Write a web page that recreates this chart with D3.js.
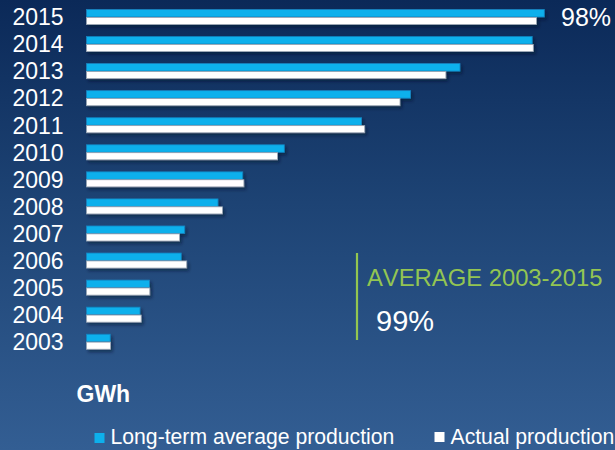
<!DOCTYPE html>
<html>
<head>
<meta charset="utf-8">
<script src="https://cdn.jsdelivr.net/npm/d3@7/dist/d3.min.js"></script>
<style>
  html, body { margin: 0; padding: 0; background: #1d4475; }
  svg { display: block; }
  text { font-family: "Liberation Sans", Arial, sans-serif; font-kerning: none; }
</style>
</head>
<body>
<div id="chart"></div>
<script>
// ---- data ----
const years = ["2015","2014","2013","2012","2011","2010","2009","2008","2007","2006","2005","2004","2003"];
const longTermAverage = [457.8, 445.7, 373.5, 324.1, 275.1, 197.8, 156.2, 131.5, 98.2, 94.7, 62.9, 53.5, 23.7];
const actualProduction = [450.0, 446.8, 359.4, 313.5, 278.2, 191.1, 157.4, 135.9, 93.1, 100.2, 63.3, 54.7, 24.1];
const seriesNames = ["Long-term average production", "Actual production"];
const unitLabel = "GWh";
const lastYearRatio = "98%";
const averageTitle = "AVERAGE 2003-2015";
const averageRatio = "99%";

const W = 615, H = 450;
const colors = { avg: "#0db0ec", avgEdge: "#1682bf", act: "#ffffff", actEdge: "#9aa6b4" };

const svg = d3.select("#chart").append("svg").attr("width", W).attr("height", H);
const defs = svg.append("defs");

const bg = defs.append("linearGradient").attr("id", "bg").attr("x1", 0).attr("y1", 0).attr("x2", 0).attr("y2", 1);
bg.append("stop").attr("offset", "0%").attr("stop-color", "#0b2958");
bg.append("stop").attr("offset", "45%").attr("stop-color", "#1d4374");
bg.append("stop").attr("offset", "100%").attr("stop-color", "#335e93");

const shadow = defs.append("filter").attr("id", "shadow").attr("x", "-10%").attr("y", "-80%").attr("width", "130%").attr("height", "300%");
shadow.append("feDropShadow").attr("dx", 2).attr("dy", 2.5).attr("stdDeviation", 1.6)
  .attr("flood-color", "#06142c").attr("flood-opacity", 0.5);

svg.append("rect").attr("width", W).attr("height", H).attr("fill", "url(#bg)");

// ---- scales ----
const x = d3.scaleLinear().domain([0, 460]).range([86.5, 546.5]);
const y = d3.scaleBand().domain(years).range([3.47, 355.25]).padding(0);
const sub = d3.scaleBand().domain(["avg", "act"]).range([0, y.bandwidth()]).paddingInner(0).paddingOuter(0.8);

const rows = years.map((yr, i) => ({ year: yr, avg: longTermAverage[i], act: actualProduction[i] }));

// bars
const g = svg.append("g");
const rowG = g.selectAll("g.row").data(rows).join("g").attr("class", "row")
  .attr("transform", d => `translate(0,${y(d.year)})`);

rowG.append("rect")
  .attr("x", x(0))
  .attr("y", sub("avg"))
  .attr("width", d => x(d.avg) - x(0))
  .attr("height", sub.bandwidth())
  .attr("fill", colors.avg)
  .attr("stroke", colors.avgEdge).attr("stroke-width", 0.8)
  .attr("filter", "url(#shadow)");

rowG.append("rect")
  .attr("x", x(0))
  .attr("y", sub("act") + 0.4)
  .attr("width", d => x(d.act) - x(0))
  .attr("height", sub.bandwidth() - 0.4)
  .attr("fill", colors.act)
  .attr("stroke", colors.actEdge).attr("stroke-width", 0.8)
  .attr("filter", "url(#shadow)");

// year labels
svg.append("g").selectAll("text").data(years).join("text")
  .attr("x", 12.5)
  .attr("y", d => y(d) + y.bandwidth() / 2 + 8.3)
  .attr("fill", "#ffffff")
  .attr("font-size", 23)
  .text(d => d);

// 98% label
svg.append("text").attr("x", 561).attr("y", 25.5)
  .attr("fill", "#ffffff").attr("font-size", 25).text(lastYearRatio);

// average block
svg.append("line").attr("x1", 357).attr("x2", 357).attr("y1", 253).attr("y2", 340)
  .attr("stroke", "#93c650").attr("stroke-width", 2.2);
svg.append("text").attr("x", 367).attr("y", 286)
  .attr("fill", "#93c552").attr("font-size", 23.8).text(averageTitle);
svg.append("text").attr("x", 376).attr("y", 330.5)
  .attr("fill", "#ffffff").attr("font-size", 29).text(averageRatio);

// unit label
svg.append("text").attr("x", 76.5).attr("y", 401.5)
  .attr("fill", "#ffffff").attr("font-size", 23).attr("font-weight", "bold").text(unitLabel);

// legend
const legendItems = [
  { name: seriesNames[0], color: colors.avg, sx: 94.5, sy: 433, tx: 110.5 },
  { name: seriesNames[1], color: colors.act, sx: 434.5, sy: 432, tx: 450.5 }
];
const lg = svg.append("g").selectAll("g").data(legendItems).join("g");
lg.append("rect").attr("x", d => d.sx).attr("y", d => d.sy).attr("width", 10).attr("height", 10).attr("fill", d => d.color);
lg.append("text").attr("x", d => d.tx).attr("y", 443.5).attr("fill", "#ffffff").attr("font-size", 21.2).text(d => d.name);
</script>
</body>
</html>
